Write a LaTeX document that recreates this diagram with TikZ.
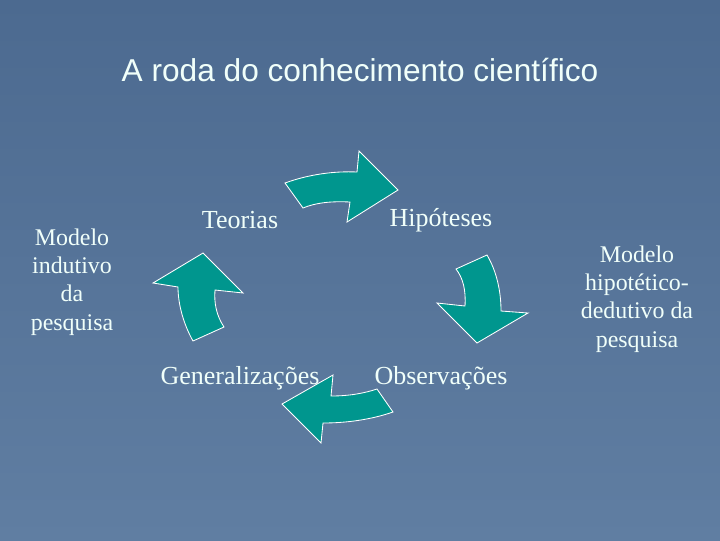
\documentclass[tikz,border=0pt]{standalone}
\usepackage{fontspec}
\setmainfont{Liberation Serif}
\newfontfamily\titlefont{Liberation Sans}
\usepackage{tikz}
\usetikzlibrary{positioning}
\definecolor{slideblue}{RGB}{76,106,144}
\definecolor{slidelight}{RGB}{96,126,162}
\definecolor{arrowteal}{RGB}{0,150,142}
\definecolor{textwhite}{RGB}{240,255,250}

\begin{document}
\begin{tikzpicture}[
        x=0.025cm, y=-0.025cm,
        title/.style={text=textwhite, font=\titlefont\fontsize{22.5}{26}\selectfont},
        stage/.style={text=textwhite, font=\fontsize{18.5}{22}\selectfont},
        side note/.style={text=textwhite, align=center, font=\fontsize{17}{20.2}\selectfont},
        block arrow/.style={fill=arrowteal, draw=white, line width=0.6pt, line join=miter}
    ]
        % background
        \shade[top color=slideblue, bottom color=slidelight] (0,0) rectangle (720,540);
        \useasboundingbox (0,0) rectangle (720,540);

        % title
        \node[title] (titulo) at (360,70) {A roda do conhecimento científico};

        % the four stages
        \node[stage] (teorias) at (240,220) {Teorias};
        \node[stage] (hipoteses) at (441,220) {Hipóteses};
        \node[stage] (observacoes) at (441,378) {Observações};
        \node[stage] (generalizacoes) at (240,378) {Generalizações};

        % side notes
        \node[side note] (indutivo) at (72,282) {Modelo\\indutivo\\da\\pesquisa};
        \node[side note] (dedutivo) at (637,299) {Modelo\\hipotético-\\dedutivo da\\pesquisa};

        % Teorias -> Hipoteses
        \draw[block arrow] (285,183) .. controls (310,174) and (335,171) .. (357,172)
            -- (359,151) -- (398,190) -- (347,222) -- (350,202)
            .. controls (330,201) and (315,203) .. (303,208) -- cycle;
        % Hipoteses -> Observacoes
        \draw[block arrow] (456,269) -- (487,255)
            .. controls (497,272) and (501,292) .. (501,311)
            -- (528,313) -- (477,343) -- (437,303) -- (465,306)
            .. controls (466,290) and (463,278) .. (456,269) -- cycle;
        % Observacoes -> Generalizacoes
        \draw[block arrow] (377,389) -- (393,412)
            .. controls (370,420) and (345,423) .. (323,423)
            -- (321,443) -- (282,404) -- (333,375) -- (331,396)
            .. controls (350,396) and (365,393) .. (377,389) -- cycle;
        % Generalizacoes -> Teorias
        \draw[block arrow] (193,341) -- (224,327)
            .. controls (216,315) and (214,302) .. (215,290)
            -- (243,293) -- (203,253) -- (153,283) -- (178,287)
            .. controls (178,305) and (184,325) .. (193,341) -- cycle;
\end{tikzpicture}
\end{document}
